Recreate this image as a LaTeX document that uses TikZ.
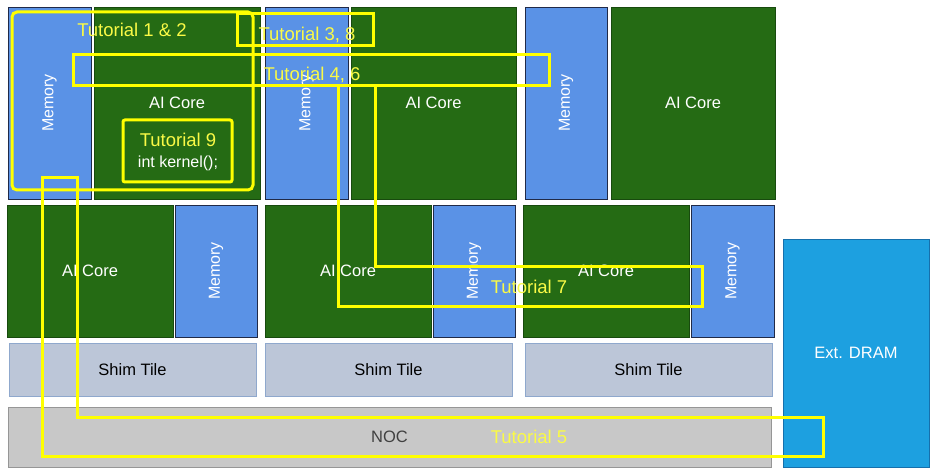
\documentclass[tikz,border=0pt]{standalone}
\usepackage{fontspec}
\setmainfont{Liberation Sans}
\usepackage{xcolor}
\definecolor{coregreen}{RGB}{37, 107, 20}
\definecolor{coreedge}{RGB}{24, 74, 14}
\definecolor{memblue}{RGB}{90, 146, 230}
\definecolor{memedge}{RGB}{32, 42, 72}
\definecolor{shimfill}{RGB}{188, 198, 216}
\definecolor{shimedge}{RGB}{143, 168, 205}
\definecolor{nocfill}{RGB}{200, 200, 200}
\definecolor{nocedge}{RGB}{150, 150, 150}
\definecolor{dramblue}{RGB}{29, 160, 224}
\definecolor{dramedge}{RGB}{22, 112, 172}
\definecolor{tutyellow}{RGB}{255, 255, 0}
\definecolor{tuttext}{RGB}{250, 250, 70}

\tikzset{
  tile/.style={draw, anchor=north west, inner sep=0pt, outer sep=0pt, line width=0.8pt,
    font=\fontsize{16.5}{18}\selectfont},
  core/.style={tile, fill=coregreen, draw=coreedge, text=white},
  mem/.style={tile, fill=memblue, draw=memedge},
  memlabel/.style={rotate=90, text=white, font=\fontsize{16}{18}\selectfont},
  shim/.style={tile, fill=shimfill, draw=shimedge, minimum width=247pt, minimum height=53pt},
  noc/.style={tile, fill=nocfill, draw=nocedge, text=black!75},
  dram/.style={tile, fill=dramblue, draw=dramedge, text=white},
  tut/.style={draw=tutyellow, line width=3pt},
  tutlabel/.style={text=tuttext, font=\fontsize{18.5}{20}\selectfont, inner sep=0pt},
}

\begin{document}
\begin{tikzpicture}[x=1pt, y=-1pt]
\useasboundingbox (0,0) rectangle (938,476);

% Top row of tiles
\node[mem, minimum width=83pt, minimum height=192pt] (mem11) at (8,7) {};
\node[core, minimum width=166pt, minimum height=192pt] (core11) at (94,7) {AI Core};
\node[mem, minimum width=83pt, minimum height=192pt] (mem12) at (265,7) {};
\node[core, minimum width=165pt, minimum height=192pt] (core12) at (351,7) {AI Core};
\node[mem, minimum width=82pt, minimum height=192pt] (mem13) at (525,7) {};
\node[core, minimum width=164pt, minimum height=192pt] (core13) at (611,7) {AI Core};

% Second row of tiles
\node[core, minimum width=166pt, minimum height=132pt] (core21) at (7,205) {AI Core};
\node[mem, minimum width=82pt, minimum height=132pt] (mem21) at (175,205) {};
\node[core, minimum width=166pt, minimum height=132pt] (core22) at (265,205) {AI Core};
\node[mem, minimum width=82pt, minimum height=132pt] (mem22) at (433,205) {};
\node[core, minimum width=166pt, minimum height=132pt] (core23) at (523,205) {AI Core};
\node[mem, minimum width=83pt, minimum height=132pt] (mem23) at (691,205) {};

\foreach \m in {mem11,mem12,mem13,mem21,mem22,mem23} {
    \node[memlabel] (\m-text) at (\m.center) {Memory};
}

% Shim tiles, NOC and DRAM
\foreach \x/\n in {9/1,265/2,525/3} {
    \node[shim] (shim\n) at (\x,343) {Shim Tile};
}
\node[noc, minimum width=763pt, minimum height=60pt] (noc) at (8,407) {NOC};
\node[dram, minimum width=146pt, minimum height=228pt] (dram) at (783,239) {Ext. DRAM};

% Tutorial outlines
\draw[tut, rounded corners=5pt] (12,12) rectangle (253,190);
\node[tutlabel] (tut12) at (132,30) {Tutorial 1 \& 2};
\draw[tut] (237,14) rectangle (373,46);
\node[tutlabel] (tut38) at (307,35) {Tutorial 3, 8};
\draw[tut] (73,55) rectangle (549,86);
\node[tutlabel] (tut46) at (312,75) {Tutorial 4, 6};
\draw[tut, rounded corners=2pt] (123,120) rectangle (232,182);
\node[tutlabel] (tut9) at (178,140) {Tutorial 9};
\node[text=white, font=\fontsize{16}{18}\selectfont] (kernel) at (178,163) {int kernel();};
\draw[tut] (338,86) -- (338,306) -- (702,306) -- (702,266) -- (375,266) -- (375,86);
\node[tutlabel] (tut7) at (529,287) {Tutorial 7};
\draw[tut] (42,178) -- (77,178) -- (77,417) -- (823,417) -- (823,456) -- (42,456) -- cycle;
\node[tutlabel] (tut5) at (529,437) {Tutorial 5};
\end{tikzpicture}
\end{document}
